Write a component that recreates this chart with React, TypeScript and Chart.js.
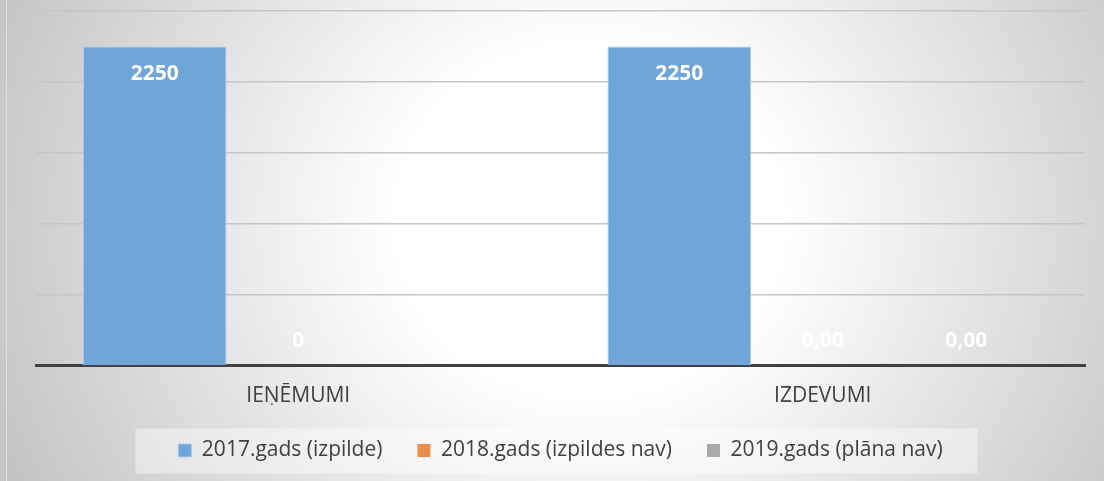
import React, { useEffect, useRef } from "react";
import { Chart, registerables } from "chart.js";

Chart.register(...registerables);

const categories = ["IEŅĒMUMI", "IZDEVUMI"];
const seriesNames = ["2017.gads (izpilde)", "2018.gads (izpildes nav)", "2019.gads (plāna nav)"];
const values2017 = [2250, 2250];
const values2018 = [0, 0];
const values2019: (number | null)[] = [null, 0];
const labels2017 = ["2250", "2250"];
const labels2018 = ["0", "0,00"];
const labels2019: (string | null)[] = [null, "0,00"];
const yMax = 2500;
const yStep = 500;

const FONT = "'Open Sans', 'Noto Sans', sans-serif";

const backgroundPlugin = {
  id: "bgGradient",
  beforeDraw(chart: any) {
    const { ctx, width, height } = chart;
    ctx.save();
    const cx = 590, cy = 220, k = 1.1, R = 640;
    ctx.translate(cx, cy);
    ctx.scale(1, 1 / k);
    const g = ctx.createRadialGradient(0, 0, 0, 0, 0, R);
    g.addColorStop(0, "#ffffff");
    g.addColorStop(0.3, "#ffffff");
    g.addColorStop(1, "#c4c4c4");
    ctx.fillStyle = g;
    ctx.fillRect(-cx, -cy * k, width, height * k);
    ctx.restore();
    ctx.save();
    ctx.fillStyle = "rgba(255,255,255,0.45)";
    ctx.fillRect(6, 0, 1, height);
    // legend background box
    const lg = chart.legend;
    if (lg && lg.legendHitBoxes && lg.legendHitBoxes.length) {
      const hb = lg.legendHitBoxes;
      let l = Infinity, r = -Infinity, t = Infinity, b = -Infinity;
      hb.forEach((h: any) => {
        l = Math.min(l, h.left);
        r = Math.max(r, h.left + h.width);
        t = Math.min(t, h.top);
        b = Math.max(b, h.top + h.height);
      });
      const my = (t + b) / 2;
      ctx.fillStyle = "rgba(255,255,255,0.42)";
      ctx.fillRect(l - 43, my - 22, r - l + 43 + 35, 45);
    }
    ctx.restore();
  },
};

const labelPlugin = {
  id: "valueLabels",
  afterDatasetsDraw(chart: any) {
    const { ctx } = chart;
    const texts = [labels2017, labels2018, labels2019];
    ctx.save();
    ctx.font = `bold 21px ${FONT}`;
    ctx.fillStyle = "#ffffff";
    ctx.textAlign = "center";
    ctx.textBaseline = "middle";
    chart.data.datasets.forEach((ds: any, di: number) => {
      const meta = chart.getDatasetMeta(di);
      meta.data.forEach((el: any, i: number) => {
        const t = texts[di][i];
        const v = ds.data[i];
        if (t == null || v == null) return;
        const y = v > 0 ? el.y + 28 : el.y - 25;
        ctx.fillText(t, el.x, y);
      });
    });
    ctx.restore();
  },
};

export default function App() {
  const ref = useRef<HTMLCanvasElement>(null);
  useEffect(() => {
    if (!ref.current) return;
    const chart = new Chart(ref.current, {
      type: "bar",
      data: {
        labels: categories,
        datasets: [
          {
            label: seriesNames[0],
            data: values2017,
            backgroundColor: "#6fa5d8",
            borderColor: "#a9cbeb",
            borderWidth: 1,
          },
          {
            label: seriesNames[1],
            data: values2018,
            backgroundColor: "#ed8c4f",
            borderColor: "#f5b48a",
            borderWidth: 0,
          },
          {
            label: seriesNames[2],
            data: values2019,
            backgroundColor: "#a9a9a9",
            borderColor: "#cfcfcf",
            borderWidth: 0,
          },
        ],
      },
      options: {
        animation: false,
        responsive: false,
        maintainAspectRatio: false,
        layout: { padding: { left: 36, right: 19, top: 11, bottom: 10 } },
        datasets: { bar: { categoryPercentage: 0.821, barPercentage: 1 } },
        scales: {
          x: {
            grid: { display: false },
            border: { display: true, color: "#404040", width: 3 },
            ticks: {
              color: "#404040",
              font: { family: FONT, size: 21 },
              padding: 10,
            },
            afterFit(scale: any) {
              scale.height = scale.height - 14;
            },
          },
          y: {
            min: 0,
            max: yMax,
            ticks: { display: false, stepSize: yStep },
            grid: { color: "#c6c6c6", lineWidth: 1.5, drawTicks: false },
            border: { display: false },
          },
        },
        plugins: {
          tooltip: { enabled: false },
          legend: {
            position: "bottom",
            labels: {
              color: "#404040",
              font: { family: FONT, size: 21 },
              boxWidth: 13,
              boxHeight: 13,
              padding: 35,
            },
          },
        },
      },
      plugins: [backgroundPlugin, labelPlugin],
    });
    return () => chart.destroy();
  }, []);
  return (
    <div style={{ position: "fixed", left: 0, top: 0, width: 1104, height: 481 }}>
      <canvas ref={ref} width={1104} height={481} style={{ display: "block" }} />
    </div>
  );
}
